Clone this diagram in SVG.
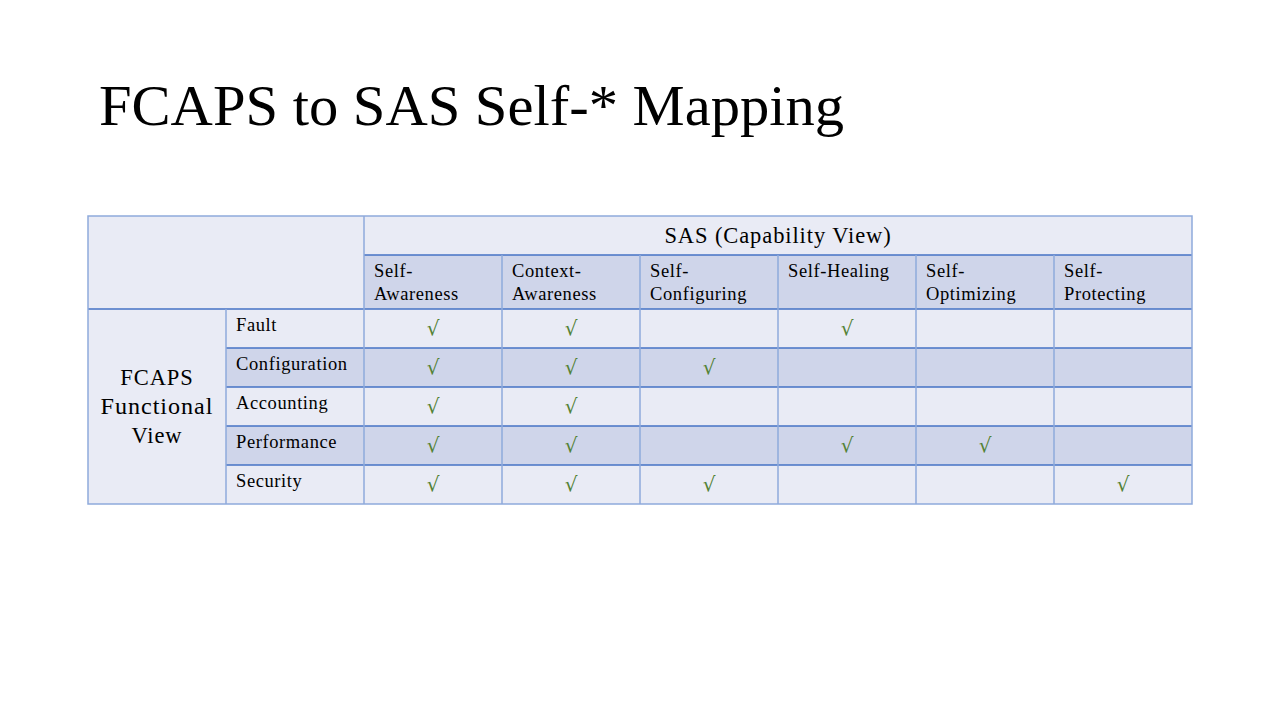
<svg xmlns="http://www.w3.org/2000/svg" width="1280" height="720" viewBox="0 0 1280 720">
<style>
.t{font-family:"Liberation Serif","DejaVu Serif",serif;fill:#000}
.c{font-size:18.5px;letter-spacing:0.6px}
.h{font-size:22.5px;letter-spacing:0.9px}
.ck{font-family:"DejaVu Sans","Liberation Sans",sans-serif;font-size:20px;fill:#548235;text-anchor:middle}
.l{fill:#E9EBF5}
.d{fill:#CFD5EA}
.hl{stroke:#4472C4;stroke-width:1.5}
.vl{stroke:#8EAADB;stroke-width:1.5}
</style>
<rect width="1280" height="720" fill="#fff"/>
<text class="t" x="99" y="125" font-size="58" textLength="745" lengthAdjust="spacingAndGlyphs">FCAPS to SAS Self-* Mapping</text>
<g id="table">
<g id="fills">
<rect class="l" x="88" y="216" width="276" height="93"/>
<rect class="l" x="364" y="216" width="828" height="39"/>
<rect class="d" x="364" y="255" width="828" height="54"/>
<rect class="l" x="88" y="309" width="138" height="195"/>
<rect class="l" x="226" y="309" width="966" height="39"/>
<rect class="d" x="226" y="348" width="966" height="39"/>
<rect class="l" x="226" y="387" width="966" height="39"/>
<rect class="d" x="226" y="426" width="966" height="39"/>
<rect class="l" x="226" y="465" width="966" height="39"/>
</g>
<g id="grid" fill="none">
<line class="hl" x1="364" y1="255" x2="1192" y2="255"/>
<line class="hl" x1="88" y1="309" x2="1192" y2="309"/>
<line class="hl" x1="226" y1="348" x2="1192" y2="348"/>
<line class="hl" x1="226" y1="387" x2="1192" y2="387"/>
<line class="hl" x1="226" y1="426" x2="1192" y2="426"/>
<line class="hl" x1="226" y1="465" x2="1192" y2="465"/>
<line class="vl" x1="226" y1="309" x2="226" y2="504"/>
<line class="vl" x1="364" y1="216" x2="364" y2="504"/>
<line class="vl" x1="502" y1="255" x2="502" y2="504"/>
<line class="vl" x1="640" y1="255" x2="640" y2="504"/>
<line class="vl" x1="778" y1="255" x2="778" y2="504"/>
<line class="vl" x1="916" y1="255" x2="916" y2="504"/>
<line class="vl" x1="1054" y1="255" x2="1054" y2="504"/>
<rect class="vl" x="88" y="216" width="1104" height="288"/>
</g>
<g id="header">
<text class="t h" x="778" y="243" text-anchor="middle">SAS (Capability View)</text>
<text class="t c" x="374" y="277">Self-</text><text class="t c" x="374" y="300">Awareness</text>
<text class="t c" x="512" y="277">Context-</text><text class="t c" x="512" y="300">Awareness</text>
<text class="t c" x="650" y="277">Self-</text><text class="t c" x="650" y="300">Configuring</text>
<text class="t c" x="788" y="277">Self-Healing</text>
<text class="t c" x="926" y="277">Self-</text><text class="t c" x="926" y="300">Optimizing</text>
<text class="t c" x="1064" y="277">Self-</text><text class="t c" x="1064" y="300">Protecting</text>
</g>
<g id="rowheads">
<text class="t h" x="157" y="385" text-anchor="middle">FCAPS</text>
<text class="t h" x="157" y="414" text-anchor="middle" textLength="113" lengthAdjust="spacingAndGlyphs">Functional</text>
<text class="t h" x="157" y="443" text-anchor="middle">View</text>
<text class="t c" x="236" y="331">Fault</text>
<text class="t c" x="236" y="370">Configuration</text>
<text class="t c" x="236" y="409">Accounting</text>
<text class="t c" x="236" y="448">Performance</text>
<text class="t c" x="236" y="487">Security</text>
</g>
<g id="checks">
<text class="ck" x="433" y="335">√</text><text class="ck" x="571" y="335">√</text><text class="ck" x="847" y="335">√</text>
<text class="ck" x="433" y="374">√</text><text class="ck" x="571" y="374">√</text><text class="ck" x="709" y="374">√</text>
<text class="ck" x="433" y="413">√</text><text class="ck" x="571" y="413">√</text>
<text class="ck" x="433" y="452">√</text><text class="ck" x="571" y="452">√</text><text class="ck" x="847" y="452">√</text><text class="ck" x="985" y="452">√</text>
<text class="ck" x="433" y="491">√</text><text class="ck" x="571" y="491">√</text><text class="ck" x="709" y="491">√</text><text class="ck" x="1123" y="491">√</text>
</g>
</g>
</svg>
